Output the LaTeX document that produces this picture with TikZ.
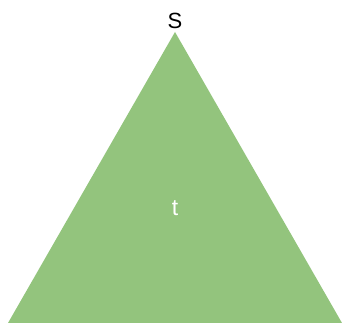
\documentclass[tikz,border=0pt]{standalone}
\usepackage{fontspec}
\setmainfont{Liberation Sans}
\definecolor{leafgreen}{HTML}{93C47D}

\begin{document}
\begin{tikzpicture}[x=1pt,y=1pt]
  \useasboundingbox (0,0) rectangle (342,323);
  % tree body
  \fill[leafgreen] (175,291) coordinate (top) -- (342,0) coordinate (br) -- (8,0) coordinate (bl) -- cycle;
  % labels
  \node[font=\fontsize{22}{26}\selectfont] (root) at (175,302.5) {S};
  \node[white,font=\fontsize{23}{27}\selectfont] (body) at (175,115) {t};
\end{tikzpicture}
\end{document}
